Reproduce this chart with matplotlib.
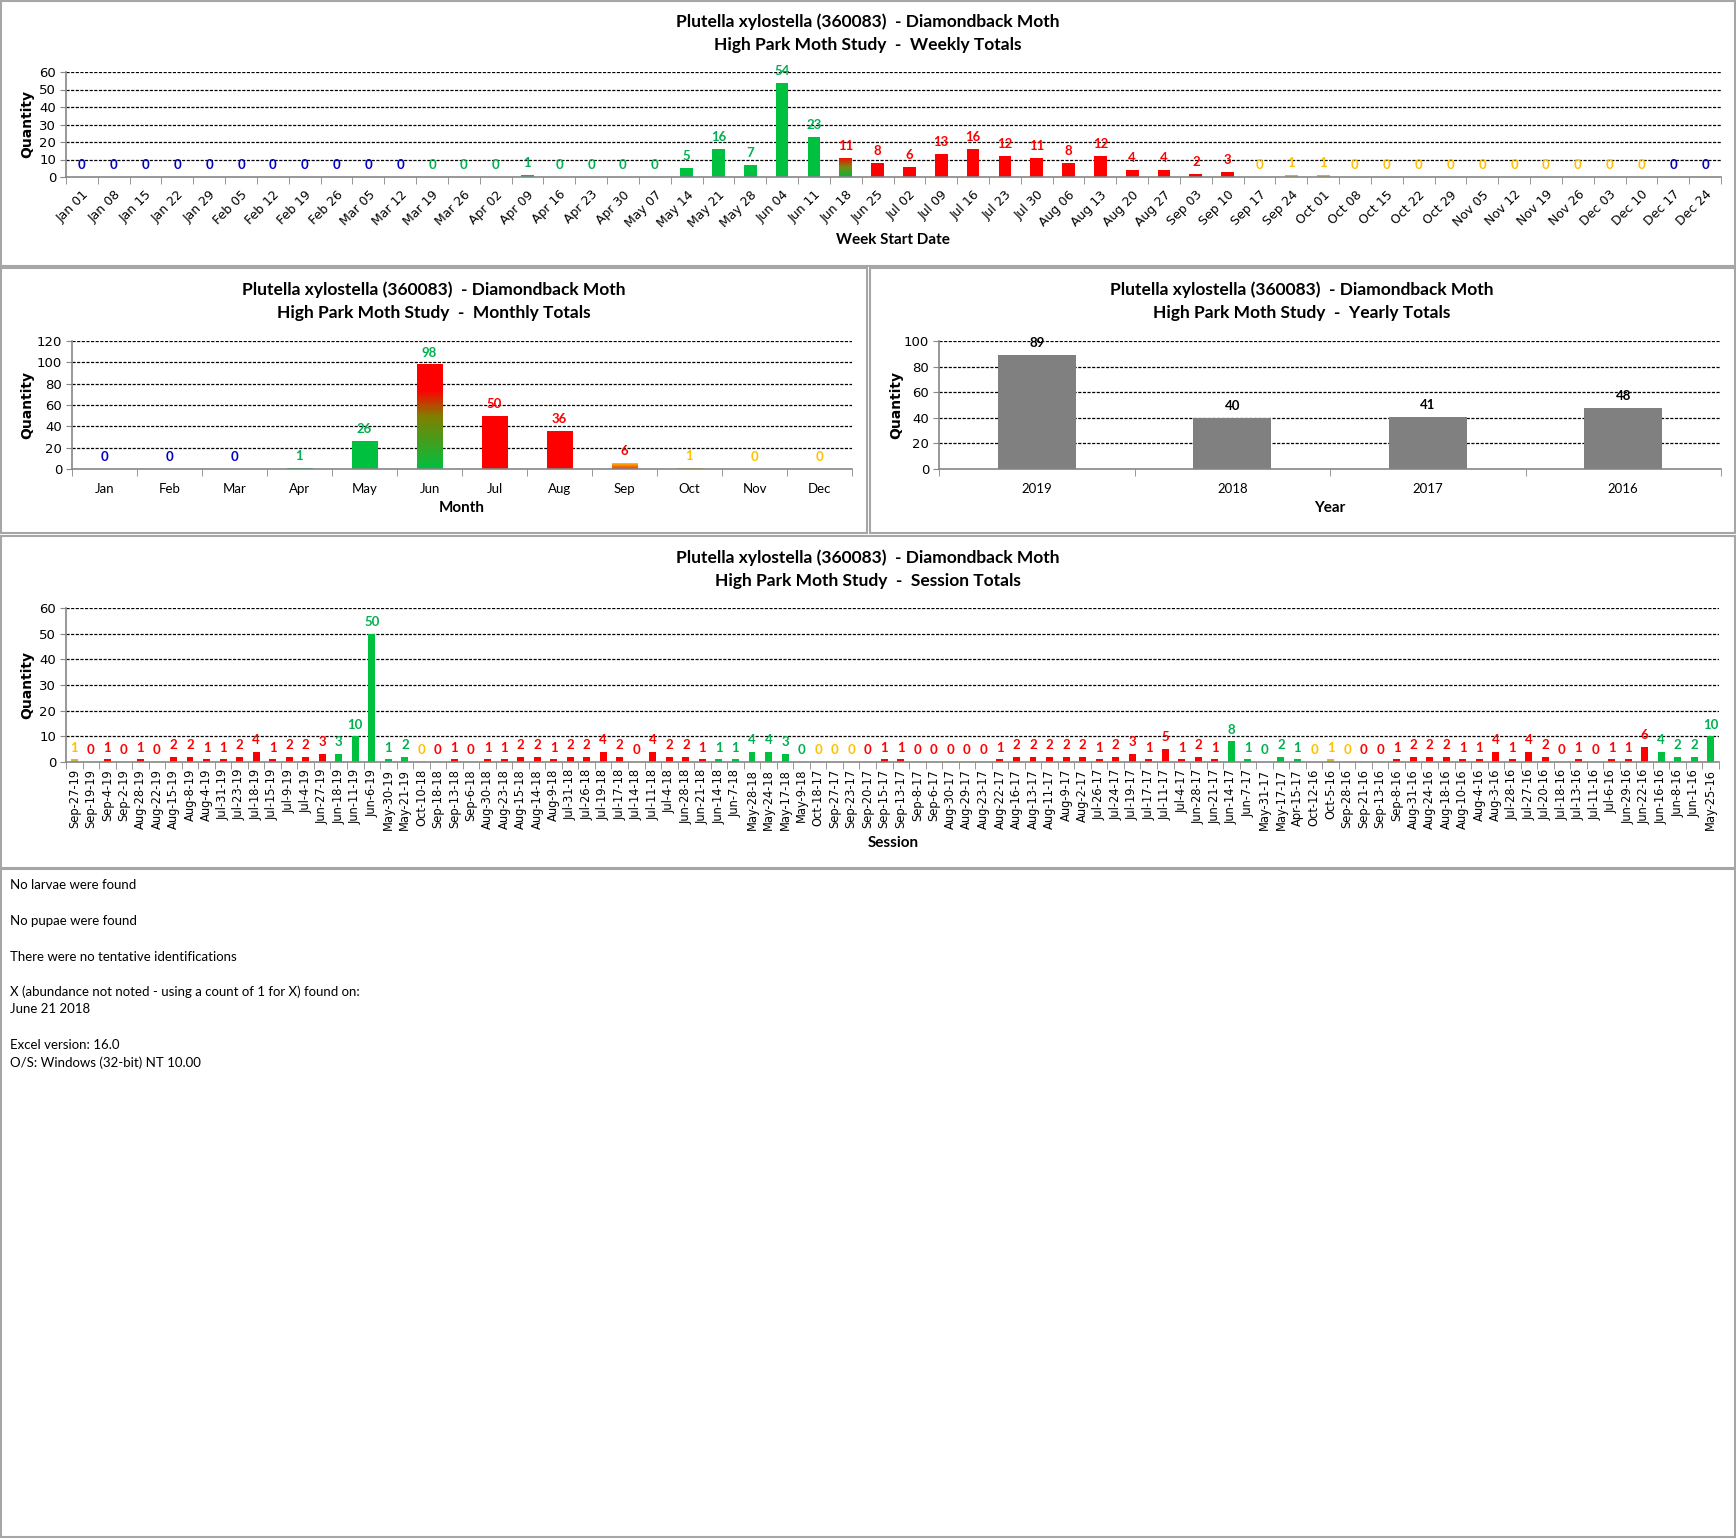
import numpy as np
import matplotlib
matplotlib.use("Agg")
import matplotlib.pyplot as plt
from matplotlib.patches import Rectangle
from matplotlib.colors import LinearSegmentedColormap

W, H = 1736, 1538

TITLE1 = "Plutella xylostella (360083)  - Diamondback Moth"

week_labels = ["Jan 01", "Jan 08", "Jan 15", "Jan 22", "Jan 29", "Feb 05", "Feb 12",
               "Feb 19", "Feb 26", "Mar 05", "Mar 12", "Mar 19", "Mar 26", "Apr 02",
               "Apr 09", "Apr 16", "Apr 23", "Apr 30", "May 07", "May 14", "May 21",
               "May 28", "Jun 04", "Jun 11", "Jun 18", "Jun 25", "Jul 02", "Jul 09",
               "Jul 16", "Jul 23", "Jul 30", "Aug 06", "Aug 13", "Aug 20", "Aug 27",
               "Sep 03", "Sep 10", "Sep 17", "Sep 24", "Oct 01", "Oct 08", "Oct 15",
               "Oct 22", "Oct 29", "Nov 05", "Nov 12", "Nov 19", "Nov 26", "Dec 03",
               "Dec 10", "Dec 17", "Dec 24"]
week_counts = [0, 0, 0, 0, 0, 0, 0, 0, 0, 0, 0, 0, 0, 0, 1, 0, 0, 0, 0, 5, 16, 7, 54, 23,
               11, 8, 6, 13, 16, 12, 11, 8, 12, 4, 4, 2, 3, 0, 1, 1, 0, 0, 0, 0, 0, 0,
               0, 0, 0, 0, 0, 0]
week_season = "WWWWWWWWWWWSSSSSSSSSSSSSUUUUUUUUUUUUUAAAAAAAAAAAAAWW"
week_gradient = {24: ["#00B83A", "#7A8A10", "#FF0000"]}

month_labels = ["Jan", "Feb", "Mar", "Apr", "May", "Jun", "Jul", "Aug", "Sep", "Oct",
                "Nov", "Dec"]
month_counts = [0, 0, 0, 1, 26, 98, 50, 36, 6, 1, 0, 0]
month_season = "WWWSSSUUUAAA"
month_gradient = {5: ["#00C040", "#40A020", "#808000", "#FF0000", "#FF0000"],
                  8: ["#F03010", "#FF8000", "#FFE000"]}

year_labels = ["2019", "2018", "2017", "2016"]
year_counts = [89, 40, 41, 48]

session_labels = [
    "Sep-27-19", "Sep-19-19", "Sep-4-19", "Sep-2-19", "Aug-28-19", "Aug-22-19",
    "Aug-15-19", "Aug-8-19", "Aug-4-19", "Jul-31-19", "Jul-23-19", "Jul-18-19",
    "Jul-15-19", "Jul-9-19", "Jul-4-19", "Jun-27-19", "Jun-18-19", "Jun-11-19",
    "Jun-6-19", "May-30-19", "May-21-19", "Oct-10-18", "Sep-18-18", "Sep-13-18",
    "Sep-6-18", "Aug-30-18", "Aug-23-18", "Aug-15-18", "Aug-14-18", "Aug-9-18",
    "Jul-31-18", "Jul-26-18", "Jul-19-18", "Jul-17-18", "Jul-14-18", "Jul-11-18",
    "Jul-4-18", "Jun-28-18", "Jun-21-18", "Jun-14-18", "Jun-7-18", "May-28-18",
    "May-24-18", "May-17-18", "May-9-18", "Oct-18-17", "Sep-27-17", "Sep-23-17",
    "Sep-20-17", "Sep-15-17", "Sep-13-17", "Sep-8-17", "Sep-6-17", "Aug-30-17",
    "Aug-29-17", "Aug-23-17", "Aug-22-17", "Aug-16-17", "Aug-13-17", "Aug-11-17",
    "Aug-9-17", "Aug-2-17", "Jul-26-17", "Jul-24-17", "Jul-19-17", "Jul-17-17",
    "Jul-11-17", "Jul-4-17", "Jun-28-17", "Jun-21-17", "Jun-14-17", "Jun-7-17",
    "May-31-17", "May-17-17", "Apr-15-17", "Oct-12-16", "Oct-5-16", "Sep-28-16",
    "Sep-21-16", "Sep-13-16", "Sep-8-16", "Aug-31-16", "Aug-24-16", "Aug-18-16",
    "Aug-10-16", "Aug-4-16", "Aug-3-16", "Jul-28-16", "Jul-27-16", "Jul-20-16",
    "Jul-18-16", "Jul-13-16", "Jul-11-16", "Jul-6-16", "Jun-29-16", "Jun-22-16",
    "Jun-16-16", "Jun-8-16", "Jun-1-16", "May-25-16"]
session_counts = [
    1, 0, 1, 0, 1, 0, 2, 2, 1, 1, 2, 4, 1, 2, 2, 3, 3, 10, 50, 1, 2,
    0, 0, 1, 0, 1, 1, 2, 2, 1, 2, 2, 4, 2, 0, 4, 2, 2, 1, 1, 1, 4, 4, 3, 0,
    0, 0, 0, 0, 1, 1, 0, 0, 0, 0, 0, 1, 2, 2, 2, 2, 2, 1, 2, 3, 1, 5, 1, 2, 1,
    8, 1, 0, 2, 1,
    0, 1, 0, 0, 0, 1, 2, 2, 2, 1, 1, 4, 1, 4, 2, 0, 1, 0, 1, 1, 6, 4, 2, 2, 10]

notes = ["No larvae were found", "No pupae were found",
         "There were no tentative identifications",
         "X (abundance not noted - using a count of 1 for X) found on:",
         "June 21 2018", "Excel version: 16.0", "O/S: Windows (32-bit) NT 10.00"]
notes_y = [885, 921, 957, 992, 1009, 1045, 1063]

LABEL_COL = {"W": "#0000C0", "S": "#00B050", "U": "#FF0000", "A": "#FFC000"}
BAR_COL = {"W": "#0000C0", "S": "#00C040", "U": "#FF0000", "A": "#D9B03C"}
MONTHS = {m: i + 1 for i, m in enumerate(month_labels)}
AXIS_GRAY = "#868686"


def season_of(label):
    """Season code of a session date like 'Jun-21-18'."""
    mon, day, _ = label.split("-")
    md = MONTHS[mon] * 100 + int(day)
    if md < 320 or md > 1220:
        return "W"
    if md < 621:
        return "S"
    if md < 922:
        return "U"
    return "A"


def fbox(left, top, right, bottom):
    return [left / W, 1 - bottom / H, (right - left) / W, (bottom - top) / H]


def panel(left, top, right, bottom):
    fig.add_artist(Rectangle((left / W, 1 - bottom / H), (right - left) / W,
                             (bottom - top) / H, transform=fig.transFigure,
                             fill=False, edgecolor="#A6A6A6", lw=1.5))


def titles(cx, y1, second):
    fig.text(cx / W, 1 - y1 / H, TITLE1, ha="center", va="center",
             family="Lato", fontweight="bold", fontsize=12.5)
    fig.text(cx / W, 1 - (y1 + 23) / H, "High Park Moth Study  -  " + second,
             ha="center", va="center", family="Lato", fontweight="bold",
             fontsize=12.5)


def setup(ax, n, ymax, step, ylab_x):
    ax.set_xlim(-0.5, n - 0.5)
    ax.set_ylim(0, ymax)
    ticks = list(range(0, ymax + 1, step))
    ax.set_yticks(ticks)
    for t in ticks[1:]:
        ax.axhline(t, color="black", lw=0.9, ls=(0, (2.5, 1.2)), zorder=0)
    for s in ("top", "right"):
        ax.spines[s].set_visible(False)
    for s in ("left", "bottom"):
        ax.spines[s].set_color(AXIS_GRAY)
        ax.spines[s].set_linewidth(1.2)
    ax.set_xticks(np.arange(n))
    ax.set_xticks(np.arange(n + 1) - 0.5, minor=True)
    ax.tick_params(axis="x", which="major", length=0)
    ax.tick_params(axis="x", which="minor", length=5, color=AXIS_GRAY,
                   direction="out")
    ax.tick_params(axis="y", length=4, color=AXIS_GRAY, labelsize=9.5, pad=3)
    ax.set_axisbelow(True)
    pos = ax.get_position()
    fig.text(ylab_x / W, pos.y0 + pos.height / 2, "Quantity", rotation=90,
             ha="center", va="center", fontweight="bold", fontsize=10)


def gradient(ax, bar, colors):
    cmap = LinearSegmentedColormap.from_list("grad", colors)
    x, y = bar.get_x(), bar.get_y()
    w, h = bar.get_width(), bar.get_height()
    img = ax.imshow(np.linspace(0, 1, 256).reshape(-1, 1), cmap=cmap,
                    origin="lower", aspect="auto", extent=(x, x + w, y, y + h),
                    zorder=bar.get_zorder())
    img.set_clip_path(bar)
    bar.set_facecolor("none")


def labels(ax, bars, counts, colors, size=9.5):
    for b, v, c in zip(bars, counts, colors):
        ax.annotate(str(v), (b.get_x() + b.get_width() / 2, v), xytext=(0, 8.5),
                    textcoords="offset points", ha="center", va="center",
                    color=c, fontsize=size, fontweight="bold", family="Lato")


fig = plt.figure(figsize=(W / 100, H / 100), dpi=100)
fig.patch.set_facecolor("white")

# weekly totals
panel(1, 1, 1735, 266)
titles(868, 22, "Weekly Totals")
ax = fig.add_axes(fbox(66, 72, 1721, 177))
n = len(week_counts)
setup(ax, n, 60, 10, 27)
bars = ax.bar(np.arange(n), week_counts, width=0.4,
              color=[BAR_COL[s] for s in week_season])
for i, cols in week_gradient.items():
    gradient(ax, bars[i], cols)
labels(ax, bars, week_counts, [LABEL_COL[s] for s in week_season])
ax.set_xticklabels(week_labels, rotation=45, ha="right", rotation_mode="anchor",
                   fontsize=9)
ax.tick_params(axis="x", which="major", pad=8)
ax.set_xlim(-0.5, n - 0.5)
ax.set_ylim(0, 60)
fig.text(893 / W, 1 - 240 / H, "Week Start Date", ha="center", va="center",
         family="Lato", fontweight="bold", fontsize=11)

# monthly totals
panel(1, 268, 867, 533)
titles(434, 290, "Monthly Totals")
ax = fig.add_axes(fbox(72, 341, 852, 469))
n = len(month_counts)
setup(ax, n, 120, 20, 27)
bars = ax.bar(np.arange(n), month_counts, width=0.4,
              color=[BAR_COL[s] for s in month_season])
for i, cols in month_gradient.items():
    gradient(ax, bars[i], cols)
labels(ax, bars, month_counts, [LABEL_COL[s] for s in month_season])
ax.set_xticklabels(month_labels, fontsize=9.5, family="Lato")
ax.tick_params(axis="x", which="major", pad=10)
ax.set_xlim(-0.5, n - 0.5)
ax.set_ylim(0, 120)
fig.text(462 / W, 1 - 508 / H, "Month", ha="center", va="center",
         family="Lato", fontweight="bold", fontsize=11)

# yearly totals
panel(870, 268, 1735, 533)
titles(1302, 290, "Yearly Totals")
ax = fig.add_axes(fbox(939, 341, 1721, 469))
n = len(year_counts)
setup(ax, n, 100, 20, 896)
bars = ax.bar(np.arange(n), year_counts, width=0.4, color="#808080")
labels(ax, bars, year_counts, ["black"] * n)
ax.set_xticklabels(year_labels, fontsize=9.5, family="Lato")
ax.tick_params(axis="x", which="major", pad=10)
fig.text(1330 / W, 1 - 508 / H, "Year", ha="center", va="center",
         family="Lato", fontweight="bold", fontsize=11)

# session totals
panel(1, 536, 1735, 868)
titles(868, 558, "Session Totals")
ax = fig.add_axes(fbox(66, 608, 1719, 762))
n = len(session_counts)
setup(ax, n, 60, 10, 27)
seasons = [season_of(s) for s in session_labels]
bars = ax.bar(np.arange(n), session_counts, width=0.42,
              color=[BAR_COL[s] for s in seasons])
labels(ax, bars, session_counts, [LABEL_COL[s] for s in seasons])
ax.set_xticklabels(session_labels, rotation=90, fontsize=8.3)
ax.tick_params(axis="x", which="major", pad=5)
fig.text(893 / W, 1 - 843 / H, "Session", ha="center", va="center",
         family="Lato", fontweight="bold", fontsize=11)

# notes
panel(1, 869, 1735, 1537)
for t, y in zip(notes, notes_y):
    fig.text(10 / W, 1 - y / H, t, ha="left", va="center", family="Lato",
             fontsize=9.5)

fig.savefig("out.png", dpi=100)
